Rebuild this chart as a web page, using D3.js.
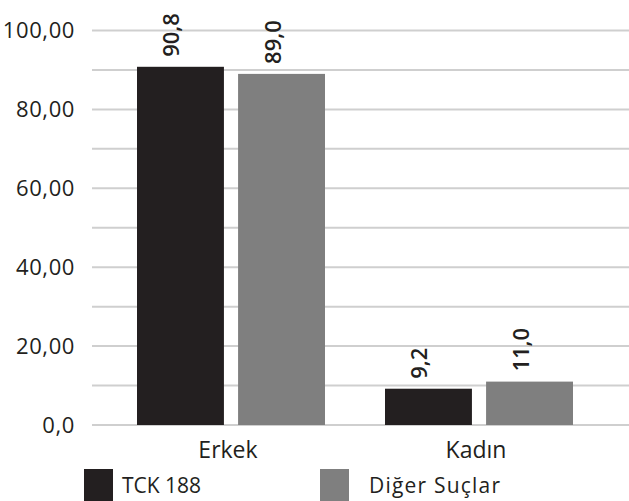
<!DOCTYPE html>
<html>
<head>
<meta charset="utf-8">
<script src="https://cdn.jsdelivr.net/npm/d3@7"></script>
<style>
  body { margin: 0; background: #fff; }
  svg text { font-family: "Open Sans", "DejaVu Sans", sans-serif; }
</style>
</head>
<body>
<svg id="chart"></svg>
<script>
/* Data */
const categories = ['Erkek', 'Kadın'];
const seriesNames = ['TCK 188', 'Diğer Suçlar'];
const tck188 = [90.8, 9.2];
const digerSuclar = [89.0, 11.0];
const yTicks = [0, 20, 40, 60, 80, 100];
const gridTicks = [0, 10, 20, 30, 40, 50, 60, 70, 80, 90, 100];

const COLORS = ['#231f20', '#7f7f7f'];

const width = 629, height = 501;
const margin = { top: 30.5, right: 0, bottom: 76, left: 92 };

const svg = d3.select('#chart')
  .attr('width', width)
  .attr('height', height);

let y = d3.scaleLinear()
  .domain([0, 100])
  .range([height - margin.bottom, margin.top]);

let x = d3.scaleBand()
  .domain(categories)
  .range([107, 603])
  .paddingInner(0)
  .paddingOuter(0);

let xs = d3.scaleBand()
  .domain(seriesNames)
  .range([30, x.bandwidth() - 30])
  .paddingInner(0.14);

/* grid */
svg.append('g')
  .selectAll('line')
  .data(gridTicks)
  .enter().append('line')
  .attr('x1', margin.left)
  .attr('x2', width - margin.right)
  .attr('y1', d => y(d))
  .attr('y2', d => y(d))
  .attr('stroke', '#cfcfcf')
  .attr('stroke-width', 2);

/* y labels */
let fmtY = d => d === 0 ? '0,0' : d.toFixed(2).replace('.', ',');
svg.append('g')
  .selectAll('text')
  .data(yTicks)
  .enter().append('text')
  .attr('x', 75)
  .attr('y', d => y(d))
  .attr('dy', '0.35em')
  .attr('text-anchor', 'end')
  .attr('font-size', 22)
  .attr('letter-spacing', 0.6)
  .attr('fill', '#231f20')
  .text(fmtY);

/* bars */
let rows = categories.map((c, i) => ({
  cat: c,
  vals: [tck188[i], digerSuclar[i]]
}));

let g = svg.selectAll('.cat')
  .data(rows)
  .enter().append('g')
  .attr('class', 'cat')
  .attr('transform', d => `translate(${x(d.cat)},0)`);

g.selectAll('rect')
  .data(d => d.vals.map((v, j) => ({ name: seriesNames[j], v, j })))
  .enter().append('rect')
  .attr('x', d => xs(d.name))
  .attr('width', xs.bandwidth())
  .attr('y', d => y(d.v))
  .attr('height', d => y(0) - y(d.v))
  .attr('fill', d => COLORS[d.j]);

g.selectAll('.val')
  .data(d => d.vals.map((v, j) => ({ name: seriesNames[j], v, j })))
  .enter().append('text')
  .attr('class', 'val')
  .attr('transform', d => `translate(${xs(d.name) + xs.bandwidth() / 2 - 1},${y(d.v) - 10}) rotate(-90)`)
  .attr('font-size', 22)
  .attr('font-weight', 600)
  .attr('fill', '#231f20')
  .text(d => d.v.toFixed(1).replace('.', ','));

/* x labels */
svg.append('g')
  .selectAll('text')
  .data(categories)
  .enter().append('text')
  .attr('x', d => x(d) + x.bandwidth() / 2 - 3)
  .attr('y', 458)
  .attr('text-anchor', 'middle')
  .attr('font-size', 23)
  .attr('fill', '#231f20')
  .text(d => d);

/* legend */
let legX = [84, 320];
let leg = svg.selectAll('.leg')
  .data(seriesNames)
  .enter().append('g')
  .attr('class', 'leg')
  .attr('transform', (d, i) => `translate(${legX[i]},469)`);

leg.append('rect')
  .attr('width', 29)
  .attr('height', 32)
  .attr('fill', (d, i) => COLORS[i]);

leg.append('text')
  .attr('x', (d, i) => i === 0 ? 38 : 49)
  .attr('y', 24)
  .attr('font-size', 21)
  .attr('letter-spacing', (d, i) => i === 0 ? 0 : 1.2)
  .attr('fill', '#231f20')
  .text(d => d);
</script>
</body>
</html>
